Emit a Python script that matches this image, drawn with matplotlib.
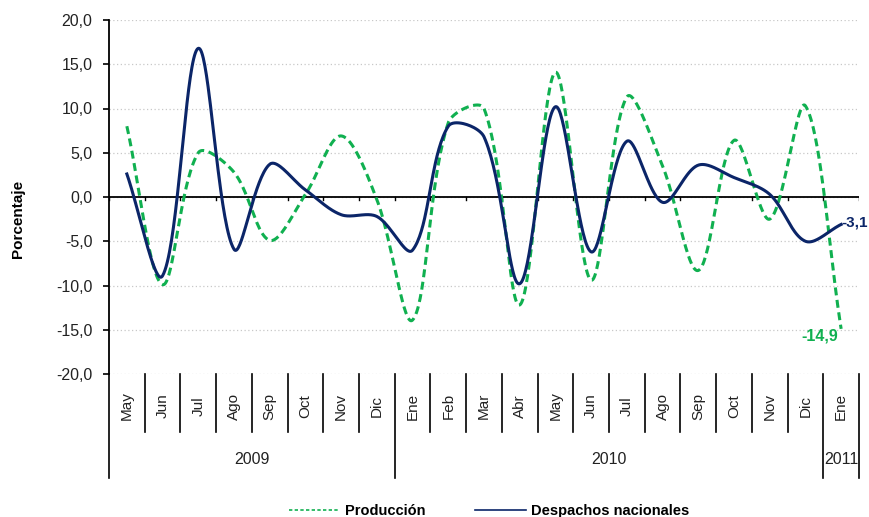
import numpy as np
import matplotlib.pyplot as plt

plt.rcParams['font.family'] = ['Liberation Sans', 'DejaVu Sans']

# data (monthly % variation)
months = ['May', 'Jun', 'Jul', 'Ago', 'Sep', 'Oct', 'Nov', 'Dic',
          'Ene', 'Feb', 'Mar', 'Abr', 'May', 'Jun', 'Jul', 'Ago', 'Sep', 'Oct', 'Nov', 'Dic',
          'Ene']
years = ['2009', '2010', '2011']
year_start = [0, 8, 20]   # index of first month of each year
produccion = [8.0, -9.9, 5.0, 2.8, -4.9, 0.3, 6.9, -0.3,
              -13.9, 8.4, 10.0, -12.2, 14.1, -9.4, 11.3, 3.5, -8.3, 6.4, -2.5, 10.3,
              -14.9]
despachos = [2.6, -8.9, 16.8, -5.9, 3.7, 0.8, -2.0, -2.2,
             -6.0, 8.0, 6.8, -9.8, 10.2, -6.2, 6.3, -0.6, 3.6, 2.2, 0.3, -5.0,
             -3.1]

green = '#10b050'
navy = '#0b2568'
YSCALE = 8.86 / 35.71   # pixel aspect of one % vs one category


def smooth(y, n=40):
    # office-style bezier smoothing, control arms scaled by segment length
    y = np.asarray(y, float)
    x = np.arange(len(y), dtype=float)
    P = np.column_stack([x, y])
    m = len(y)
    d = [np.hypot(P[i + 1, 0] - P[i, 0], (P[i + 1, 1] - P[i, 1]) * YSCALE) for i in range(m - 1)]
    outs, ins = [], []
    for i in range(m):
        prev = P[max(i - 1, 0)]
        nxt = P[min(i + 1, m - 1)]
        T = nxt - prev
        dp = d[i - 1] if i > 0 else 0.0
        dn = d[i] if i < m - 1 else 0.0
        tot = dp + dn
        outs.append(P[i] + T * (dn / tot) / 3 if tot else P[i])
        ins.append(P[i] - T * (dp / tot) / 3 if tot else P[i])
    t = np.linspace(0, 1, n)[:, None]
    xs, ys = [], []
    for i in range(m - 1):
        p0, c1, c2, p3 = P[i], outs[i], ins[i + 1], P[i + 1]
        b = (1 - t) ** 3 * p0 + 3 * (1 - t) ** 2 * t * c1 + 3 * (1 - t) * t ** 2 * c2 + t ** 3 * p3
        xs.append(b[:, 0])
        ys.append(b[:, 1])
    return np.concatenate(xs), np.concatenate(ys)


def fmt(v):
    return ('%.1f' % v).replace('.', ',')


fig = plt.figure(figsize=(8.69, 5.17), dpi=100)
ax = fig.add_axes([109 / 869, 1 - 374 / 517, 750 / 869, 354 / 517])

n = len(months)
ax.set_xlim(-0.5, n - 0.5)
ax.set_ylim(-20, 20)
yt = np.arange(-20, 21, 5)
ax.set_yticks(yt)
ax.set_yticklabels([fmt(v) for v in yt], fontsize=11.5, color='#222222')
for v in yt:
    ax.axhline(v, color='#c8c8c8', lw=0.9, ls=(0, (1, 2)), zorder=0)

for s in ['top', 'right', 'bottom']:
    ax.spines[s].set_visible(False)
ax.spines['left'].set_linewidth(1.3)
ax.tick_params(axis='y', length=4, width=1.2, pad=8)
ax.set_xticks([])

# zero axis line with category ticks
ax.axhline(0, color='black', lw=1.3, zorder=2)
for k in range(n + 1):
    ax.plot([k - 0.5, k - 0.5], [0, -0.35], color='black', lw=1, zorder=2)

xs, ys = smooth(produccion)
ax.plot(xs, ys, color=green, lw=2.2, ls=(0, (2.6, 1.5)), label='Producción', zorder=3)
xs, ys = smooth(despachos)
ax.plot(xs, ys, color=navy, lw=2.2, label='Despachos nacionales', zorder=4)

ax.text(n - 1 + 0.02, despachos[-1] + 0.2, fmt(despachos[-1]),
        color=navy, fontsize=11, fontweight='bold', ha='left', va='center', clip_on=False)
ax.text(n - 1 - 0.08, produccion[-1] - 0.8, fmt(produccion[-1]),
        color=green, fontsize=11.5, fontweight='bold', ha='right', va='center')

# category labels and separators below the plot
trans = ax.get_xaxis_transform()
y_month_end = -58 / 354
y_year_end = -104 / 354
for i, m in enumerate(months):
    ax.text(i, -32 / 354, m, transform=trans, rotation=90, ha='center', va='center',
            fontsize=11, color='#222222', clip_on=False)
for k in range(n + 1):
    end = y_year_end if (k in year_start or k == n) else y_month_end
    ax.plot([k - 0.5, k - 0.5], [0, end], transform=trans, color='black', lw=1.2,
            clip_on=False)
bounds = year_start + [n]
for j, yr in enumerate(years):
    mid = (bounds[j] + bounds[j + 1] - 1) / 2
    ax.text(mid, -85 / 354, yr, transform=trans, ha='center', va='center',
            fontsize=11.5, color='#222222', clip_on=False)

fig.text(18 / 869, 1 - 219 / 517, 'Porcentaje', rotation=90, ha='center', va='center',
         fontsize=11, fontweight='bold')

leg = fig.legend(loc='center', bbox_to_anchor=(489 / 869, 1 - 511 / 517), ncol=2,
                 frameon=False, prop={'weight': 'bold', 'size': 10.5},
                 handlelength=3.5, columnspacing=3.4, handletextpad=0.35)
for line in leg.get_lines():
    line.set_linewidth(1.2)
leg.get_lines()[0].set_linestyle((0, (2, 1.4)))

plt.savefig('out.png', dpi=100)
